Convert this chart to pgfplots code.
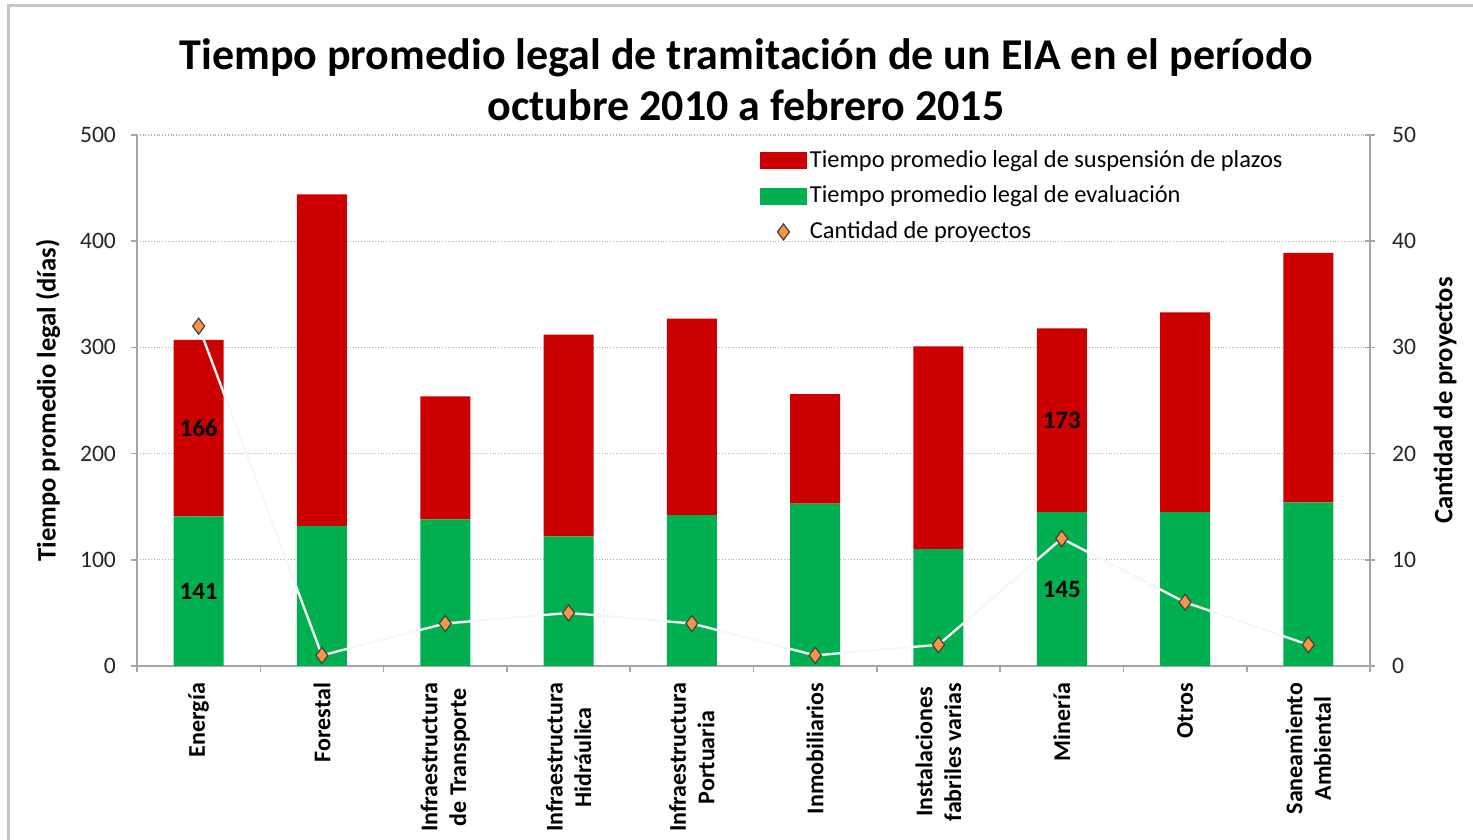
\documentclass[border=0pt]{standalone}
\usepackage{pgfplots}
\pgfplotsset{compat=1.18}
\usepackage{fontspec}
\setmainfont{Carlito}
\definecolor{barred}{RGB}{204,0,0}
\definecolor{bargreen}{RGB}{0,176,80}
\definecolor{diamond}{RGB}{247,150,70}
\definecolor{axgray}{RGB}{166,166,166}
\pgfplotsset{
  diamondlegend/.style={legend image code/.code={\draw[##1] plot coordinates {(11.5pt,0pt)};}},
  redlegend/.style={legend image code/.code={\fill[barred] (0pt,-4pt) rectangle (23pt,4pt);}},
  greenlegend/.style={legend image code/.code={\fill[bargreen] (0pt,-4pt) rectangle (23pt,4pt);}},
}
\begin{document}
\begin{tikzpicture}
\path[use as bounding box] (0,0) rectangle (736.5pt,420pt);
\draw[gray!45, line width=1.5pt] (4pt,-20pt) rectangle (760pt,417pt);
\node[align=center, font=\bfseries\fontsize{22}{25.5}\selectfont] at (373pt,380pt)
  {Tiempo promedio legal de tramitación de un EIA en el período\\octubre 2010 a febrero 2015};
\begin{axis}[
  at={(68.5pt,87pt)}, anchor=south west, scale only axis,
  width=616.5pt, height=265.5pt,
  ybar stacked, bar width=25pt,
  xmin=-0.5, xmax=9.5, ymin=0, ymax=500,
  axis x line*=bottom, axis y line*=left,
  axis line style={axgray, line width=1pt, -},
  xtick={0,...,9},
  xticklabels={Energía, Forestal, {Infraestructura\\de Transporte}, {Infraestructura\\Hidráulica}, {Infraestructura\\Portuaria}, Inmobiliarios, {Instalaciones\\fabriles varias}, Minería, Otros, {Saneamiento\\Ambiental}},
  major x tick style={draw=none},
  minor xtick={-0.5,0.5,...,9.5},
  minor x tick style={axgray, line width=0.8pt},
  minor tick length=3pt,
  tick align=outside,
  major tick length=3pt,
  y tick style={axgray, line width=0.8pt},
  xticklabel style={rotate=90, anchor=east, align=center, font=\bfseries\fontsize{12}{14.3}\selectfont, xshift=-2pt},
  ytick={0,100,...,500},
  yticklabel style={font=\fontsize{11.8}{13}\selectfont, text=black!85, xshift=-4pt},
  /pgf/number format/assume math mode=true,
  ymajorgrids, grid style={densely dotted, gray!60, line width=0.6pt},
  ylabel={Tiempo promedio legal (días)},
  ylabel style={font=\bfseries\fontsize{13.3}{14}\selectfont, at={(axis description cs:-0.0722,0.5)}, anchor=center},
]
\addplot[fill=bargreen, draw=none] coordinates {(0,141) (1,132) (2,138) (3,122) (4,142) (5,153) (6,110) (7,145) (8,145) (9,154)};
\addplot[fill=barred, draw=none] coordinates {(0,166) (1,312) (2,116) (3,190) (4,185) (5,103) (6,191) (7,173) (8,188) (9,235)};
\end{axis}
\begin{axis}[
  at={(68.5pt,87pt)}, anchor=south west, scale only axis,
  width=616.5pt, height=265.5pt,
  xmin=-0.5, xmax=9.5, ymin=0, ymax=50,
  axis x line=none, axis y line*=right,
  axis line style={axgray, line width=1pt, -},
  ytick={0,10,...,50},
  tick align=center, major tick length=5pt,
  y tick style={axgray, line width=0.8pt},
  yticklabel style={font=\fontsize{11.8}{13}\selectfont, text=black!85, xshift=5pt},
  /pgf/number format/assume math mode=true,
  ylabel={Cantidad de proyectos},
  ylabel style={font=\bfseries\fontsize{13.3}{14}\selectfont, at={(axis description cs:1.0608,0.5)}, anchor=center, rotate=0},
  legend style={at={(0.505,0.978)}, anchor=north west, draw=none, fill=none,
    font=\fontsize{12.2}{13}\selectfont, row sep=5pt, inner sep=0pt,
    nodes={inner sep=1.5pt}},
  legend cell align=left,
]
\addlegendimage{redlegend}
\addlegendentry{Tiempo promedio legal de suspensión de plazos}
\addlegendimage{greenlegend}
\addlegendentry{Tiempo promedio legal de evaluación}
\addplot[black!3, line width=1.2pt, forget plot] coordinates {(0,32) (1,1) (2,4) (3,5) (4,4) (5,1) (6,2) (7,12) (8,6) (9,2)};
\addplot[only marks, mark=diamond*, mark size=4pt, mark options={fill=diamond, draw=black!75, line width=0.6pt}, diamondlegend]
  coordinates {(0,32) (1,1) (2,4) (3,5) (4,4) (5,1) (6,2) (7,12) (8,6) (9,2)};
\addlegendentry{Cantidad de proyectos}
\addplot[only marks, mark=none, forget plot, nodes near coords, point meta=explicit symbolic,
  nodes near coords style={anchor=center, font=\bfseries\fontsize{12.5}{13}\selectfont, text=black}]
  coordinates {(0,7.05)[141] (0,22.4)[166] (7,7.25)[145] (7,23.15)[173]};
\end{axis}
\end{tikzpicture}
\end{document}
